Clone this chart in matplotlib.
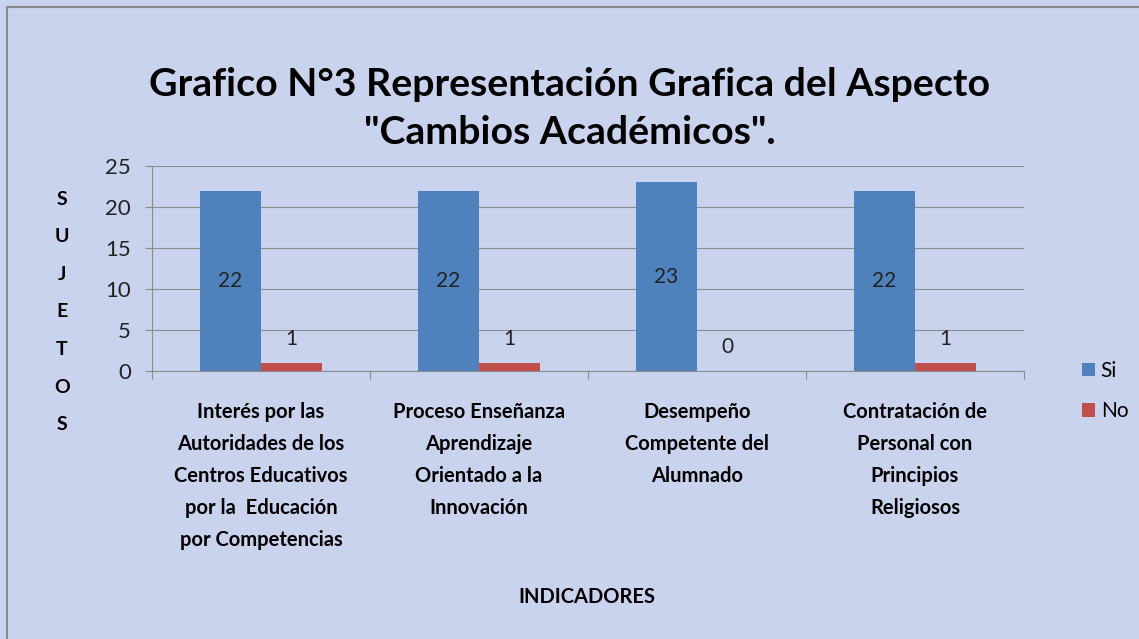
import numpy as np
import matplotlib.pyplot as plt
from matplotlib.patches import Rectangle

plt.rcParams['font.family'] = ['Lato', 'DejaVu Sans']

categorias = ['Interés por las\nAutoridades de los\nCentros Educativos\npor la  Educación\npor Competencias',
              'Proceso Enseñanza\nAprendizaje\nOrientado a la\nInnovación',
              'Desempeño\nCompetente del\nAlumnado',
              'Contratación de\nPersonal con\nPrincipios\nReligiosos']
si = [22, 22, 23, 22]
no = [1, 1, 0, 1]
yticks = [0, 5, 10, 15, 20, 25]

fig = plt.figure(figsize=(11.39, 6.39), dpi=100)
fig.patch.set_facecolor('#c9d3ee')
fig.patches.append(Rectangle((7/1139, -0.1), 1.2, 1.1 - 7/639, transform=fig.transFigure,
                             fill=False, edgecolor='#8a8a8a', lw=1.5))

ax = fig.add_axes([152/1139, 1 - 371/639, (1024 - 152)/1139, (371 - 166)/639])
ax.set_facecolor('none')

x = np.arange(len(categorias))
w = 0.28
b1 = ax.bar(x - w/2, si, w, color='#4f81bd', zorder=3, label='Si')
b2 = ax.bar(x + w/2, no, w, color='#c0504d', zorder=3, label='No')

for r, v in zip(b1, si):
    ax.text(r.get_x() + r.get_width()/2, v/2, str(v), ha='center', va='center',
            fontsize=15, color='#222222', zorder=4)
for r, v in zip(b2, no):
    ax.annotate(str(v), (r.get_x() + r.get_width()/2, v), xytext=(0, 17),
                textcoords='offset points', ha='center', va='center',
                fontsize=15, color='#222222', zorder=4)

ax.set_xlim(-0.5, len(categorias) - 0.5)
ax.set_ylim(0, 25)
ax.set_yticks(yticks)
ax.yaxis.grid(True, color='#8c8c8c', lw=0.8, zorder=0)
ax.tick_params(axis='y', labelsize=16, length=5, color='#8c8c8c', labelcolor='#222222', pad=10)

ax.set_xticks(np.arange(len(categorias) + 1) - 0.5, minor=False)
ax.set_xticklabels([])
ax.set_xticks(x, minor=True)
ax.set_xticklabels(categorias, minor=True, fontsize=14.5, fontweight='bold', linespacing=1.75)
ax.tick_params(axis='x', which='major', length=6, color='#8c8c8c')
ax.tick_params(axis='x', which='minor', length=0, pad=22)

for s in ['top', 'right']:
    ax.spines[s].set_visible(False)
for s in ['left', 'bottom']:
    ax.spines[s].set_color('#8c8c8c')

fig.text(0.5, 1 - 84/639, 'Grafico N°3 Representación Grafica del Aspecto',
         ha='center', va='center', fontsize=28.3, fontweight='bold')
fig.text(0.5, 1 - 133/639, '"Cambios Académicos".',
         ha='center', va='center', fontsize=28.3, fontweight='bold')

fig.text(62/1139, 1 - 312/639, '\n'.join('SUJETOS'), ha='center', va='center',
         fontsize=14, fontweight='bold', linespacing=2.47)
fig.text(587/1139, 1 - 597/639, 'INDICADORES', ha='center', va='center',
         fontsize=14.5, fontweight='bold')

leg = fig.legend(handles=[b1, b2], loc='center left', bbox_to_anchor=(1082/1139, 1 - 391/639),
                 frameon=False, fontsize=15, handlelength=0.6, handleheight=0.6,
                 handletextpad=0.3, labelspacing=1.0, borderpad=0, borderaxespad=0)

fig.savefig('out.png', dpi=100, facecolor=fig.get_facecolor())
